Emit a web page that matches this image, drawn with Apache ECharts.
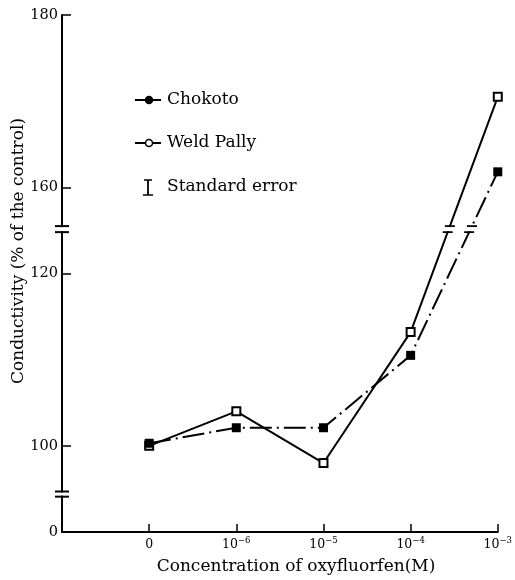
<!DOCTYPE html>
<html><head><meta charset="utf-8">
<script src="https://cdn.jsdelivr.net/npm/echarts@6/dist/echarts.min.js"></script>
<style>html,body{margin:0;padding:0;background:#fff}#c{width:515px;height:580px}</style>
</head><body><div id="c"></div>
<script>
// ---- data (real values, % of control) ----
const categories = ['0', '10^-6', '10^-5', '10^-4', '10^-3'];
const chokoto = [100.3, 102.1, 102.1, 110.5, 161.8];
const weldPally = [100.0, 104.0, 98.0, 113.2, 170.5];
const yTickValues = [0, 100, 120, 160, 180];

// broken-axis transform: real value -> display coordinate
function toD(v) { if (v >= 140) return v - 30; if (v >= 50) return v; return v + 90; }
const yTickD = yTickValues.map(toD);
const FONT = 'DejaVu Serif';

function xLabel(i) {
  const c = categories[i];
  if (c === undefined) return '';
  const m = c.match(/^10\^(-?\d+)$/);
  if (m) return '{b|10}{s|' + m[1].replace('-', '−') + '}';
  return '{b|' + c + '}';
}

const chart = echarts.init(document.getElementById('c'), null, {renderer: 'canvas'});
const option = {
  backgroundColor: '#fff',
  animation: false,
  grid: {left: 62, right: 12, top: 15, bottom: 48, containLabel: false},
  xAxis: {
    type: 'value', min: -1, max: categories.length - 1, interval: 1,
    splitLine: {show: false},
    axisLine: {onZero: false, lineStyle: {color: '#000', width: 2}},
    axisTick: {inside: true, length: 8, lineStyle: {color: '#000', width: 1.5},
      customValues: categories.map((c, i) => i)},
    axisLabel: {
      customValues: categories.map((c, i) => i),
      formatter: (v) => xLabel(Math.round(v)),
      margin: 4,
      rich: {
        b: {fontFamily: FONT, fontSize: 12.5, color: '#000', lineHeight: 15, verticalAlign: 'bottom'},
        s: {fontFamily: FONT, fontSize: 8.5, color: '#000', lineHeight: 15, verticalAlign: 'top'}
      }
    }
  },
  yAxis: {
    type: 'value', min: 90, max: 150,
    splitLine: {show: false},
    axisLine: {show: true, onZero: false, lineStyle: {color: '#000', width: 2}},
    axisTick: {show: true, inside: true, length: 9, lineStyle: {color: '#000', width: 1.5},
      customValues: yTickD},
    axisLabel: {
      customValues: yTickD,
      formatter: (v) => { const i = yTickD.findIndex(d => Math.abs(d - v) < 1e-6); return i >= 0 ? String(yTickValues[i]) : ''; },
      fontFamily: FONT, fontSize: 14.5, color: '#000', margin: 4
    }
  },
  series: [
    {
      name: 'Weld Pally', type: 'line', z: 3,
      data: weldPally.map((v, i) => [i, toD(v)]),
      symbol: 'rect', symbolSize: 8, showSymbol: true,
      itemStyle: {color: '#fff', borderColor: '#000', borderWidth: 2},
      lineStyle: {color: '#000', width: 2}
    },
    {
      name: 'Chokoto', type: 'line', z: 4,
      data: chokoto.map((v, i) => [i, toD(v)]),
      symbol: 'rect', symbolSize: 9, showSymbol: true,
      itemStyle: {color: '#000', borderColor: '#000', borderWidth: 0},
      lineStyle: {color: '#000', width: 2, type: [22, 5, 2, 5]}
    }
  ]
};
chart.setOption(option);

// ---- decorations: axis/line breaks, legend, axis titles ----
const px = (x, d) => chart.convertToPixel({gridIndex: 0}, [x, d]);
const g = [];
const brkUpper = [124.8, 125.5];
const brkLower = [94.1, 94.7];
const axisX = px(-1, 100)[0];
[brkUpper, brkLower].forEach(b => {
  const y1 = px(-1, b[1])[1], y2 = px(-1, b[0])[1];
  g.push({type: 'rect', z: 100, shape: {x: axisX - 3, y: y1 + 1, width: 6, height: y2 - y1 - 2}, style: {fill: '#fff'}});
  [y1, y2].forEach(y => g.push({type: 'line', z: 101, shape: {x1: axisX - 7, y1: y, x2: axisX + 7, y2: y}, style: {stroke: '#000', lineWidth: 2}}));
});
// gaps in the data lines where they cross the upper break
[weldPally, chokoto].forEach(arr => {
  const n = arr.length;
  for (let i = 0; i < n - 1; i++) {
    const a = toD(arr[i]), b = toD(arr[i + 1]);
    if (!((a < brkUpper[0] && b > brkUpper[1]) || (b < brkUpper[0] && a > brkUpper[1]))) continue;
    const P = px(i, a), Q = px(i + 1, b);
    const xAt = (y) => P[0] + (y - P[1]) * (Q[0] - P[0]) / (Q[1] - P[1]);
    const yT = px(0, brkUpper[1])[1], yB = px(0, brkUpper[0])[1];
    const xT = xAt(yT), xB = xAt(yB);
    g.push({type: 'rect', z: 100, shape: {x: Math.min(xT, xB) - 4, y: yT + 1, width: Math.abs(xT - xB) + 8, height: yB - yT - 2}, style: {fill: '#fff'}});
    g.push({type: 'line', z: 101, shape: {x1: xT - 5, y1: yT, x2: xT + 5, y2: yT}, style: {stroke: '#000', lineWidth: 1.8}});
    g.push({type: 'line', z: 101, shape: {x1: xB - 5, y1: yB, x2: xB + 5, y2: yB}, style: {stroke: '#000', lineWidth: 1.8}});
  }
});
// legend
const legendItems = [
  {label: 'Chokoto', filled: true, y: 100},
  {label: 'Weld Pally', filled: false, y: 143}
];
legendItems.forEach(it => {
  g.push({type: 'line', z: 100, shape: {x1: 135, y1: it.y, x2: 161, y2: it.y}, style: {stroke: '#000', lineWidth: 2}});
  g.push({type: 'circle', z: 101, shape: {cx: 149, cy: it.y, r: 3.5}, style: {fill: it.filled ? '#000' : '#fff', stroke: '#000', lineWidth: 1.5}});
  g.push({type: 'text', z: 101, x: 167, y: it.y, style: {text: it.label, font: '17px "DejaVu Serif"', fill: '#000', textVerticalAlign: 'middle', textAlign: 'left'}});
});
g.push({type: 'line', z: 100, shape: {x1: 148, y1: 180, x2: 148, y2: 195}, style: {stroke: '#000', lineWidth: 1.8}});
g.push({type: 'line', z: 100, shape: {x1: 144, y1: 180, x2: 152, y2: 180}, style: {stroke: '#000', lineWidth: 1.5}});
g.push({type: 'line', z: 100, shape: {x1: 143, y1: 195, x2: 153, y2: 195}, style: {stroke: '#000', lineWidth: 1.5}});
g.push({type: 'text', z: 101, x: 167, y: 187, style: {text: 'Standard error', font: '17px "DejaVu Serif"', fill: '#000', textVerticalAlign: 'middle', textAlign: 'left'}});
// axis titles
g.push({type: 'text', z: 101, x: 296, y: 567, style: {text: 'Concentration of oxyfluorfen(M)', font: '17px "DejaVu Serif"', fill: '#000', textVerticalAlign: 'middle', textAlign: 'center'}});
g.push({type: 'text', z: 101, x: 19, y: 251, rotation: Math.PI / 2, style: {text: 'Conductivity (% of the control)', font: '17px "DejaVu Serif"', fill: '#000', textVerticalAlign: 'middle', textAlign: 'center'}});
chart.setOption({graphic: g});
</script>
</body></html>
